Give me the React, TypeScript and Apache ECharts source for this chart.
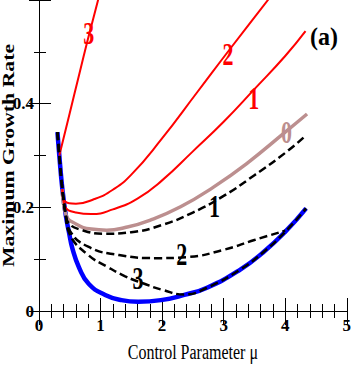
import React, { useEffect, useRef } from "react";
import * as echarts from "echarts";

// ---- data (mu, growth rate) ----
const xTickValues = [0, 1, 2, 3, 4, 5];
const yTickLabels: Record<string, string> = { "0": "0", "0.2": "0.2", "0.4": "0.4" };

const blueCurve: [number, number][] = [
  [0.3, 0.345], [0.33, 0.3], [0.38, 0.235], [0.435, 0.185], [0.49, 0.15], [0.54, 0.122],
  [0.65, 0.084], [0.81, 0.052], [1.075, 0.031], [1.34, 0.021], [1.61, 0.018], [1.98, 0.021],
  [2.36, 0.031], [2.73, 0.045], [3.27, 0.08], [3.64, 0.113], [4.01, 0.154], [4.34, 0.198],
];
const red3: [number, number][] = [
  [0.33, 0.3], [0.5, 0.382], [0.65, 0.455], [0.8, 0.527], [0.96, 0.6], [1.0, 0.62],
];
const red2: [number, number][] = [
  [0.38, 0.235], [0.42, 0.212], [0.6, 0.207], [0.9, 0.216], [1.2, 0.234],
  [1.5, 0.263], [1.98, 0.33], [2.57, 0.422], [3.1, 0.505], [3.72, 0.6], [3.8, 0.612],
];
const red1: [number, number][] = [
  [0.38, 0.235], [0.42, 0.203], [0.6, 0.19], [0.85, 0.187], [1.2, 0.196],
  [1.6, 0.217], [2.0, 0.252], [2.5, 0.308], [3.0, 0.365], [3.5, 0.428],
  [4.0, 0.492], [4.33, 0.54],
];
const pink0: [number, number][] = [
  [0.38, 0.235], [0.44, 0.185], [0.6, 0.168], [0.85, 0.158], [1.1, 0.156], [1.4, 0.161],
  [1.8, 0.175], [2.3, 0.201], [2.835, 0.239], [3.37, 0.284], [4.0, 0.345], [4.355, 0.38],
];
const dashed1: [number, number][] = [
  [0.3, 0.345], [0.33, 0.3], [0.38, 0.235], [0.43, 0.19], [0.48, 0.17], [0.7, 0.156],
  [1.075, 0.149], [1.5, 0.152], [2.0, 0.166], [2.5, 0.19], [3.0, 0.222], [3.5, 0.262],
  [4.0, 0.305], [4.33, 0.338],
];
const dashed2: [number, number][] = [
  [0.3, 0.345], [0.33, 0.3], [0.38, 0.235], [0.435, 0.185], [0.5, 0.155], [0.8, 0.124],
  [1.3, 0.108], [1.9, 0.102], [2.4, 0.104], [3.0, 0.118], [3.5, 0.137], [4.0, 0.155],
];
const dashed3: [number, number][] = [
  [0.3, 0.345], [0.33, 0.3], [0.38, 0.235], [0.435, 0.185], [0.5, 0.148],
  [0.8, 0.108], [1.1, 0.086], [1.4, 0.067], [1.7, 0.053], [2.0, 0.041], [2.36, 0.032],
  [2.73, 0.045], [3.27, 0.08], [3.64, 0.113], [4.01, 0.154], [4.34, 0.198],
];

const curveLabelTexts = ["3", "2", "1", "0", "1", "2", "3", "(a)"];
const curveLabelMu = [0.81, 3.07, 3.49, 4.02, 2.85, 2.32, 1.61, 4.63];
const curveLabelValue = [0.535, 0.494, 0.41, 0.344, 0.202, 0.108, 0.062, 0.53];
const curveLabelColors = ["#ff0000", "#ff0000", "#ff0000", "#bc8f8f", "#000000", "#000000", "#000000", "#000000"];

const xName = "Control Parameter μ";
const yName = "Maximum Growth Rate";

const SERIF = "'Liberation Serif', 'Times New Roman', serif";

export default function App() {
  const ref = useRef<HTMLDivElement>(null);

  useEffect(() => {
    const chart = echarts.init(ref.current!, undefined, { renderer: "svg" });

    const lineSeries = (data: [number, number][], color: string, width: number, dashed = false) => ({
      type: "line",
      data,
      showSymbol: false,
      symbol: "none",
      smooth: 0.5,
      lineStyle: { color, width, type: dashed ? [8, 4] : "solid" },
      xAxisIndex: 0,
      yAxisIndex: 0,
      silent: true,
    });

    const tickLine = { color: "#000", width: 1 };
    const baseX = {
      type: "value",
      min: xTickValues[0],
      max: xTickValues[xTickValues.length - 1],
      interval: 1,
      splitLine: { show: false },
      minorSplitLine: { show: false },
      axisLine: { show: true, lineStyle: tickLine },
    };
    const baseY = {
      type: "value",
      min: 0,
      max: 0.6,
      interval: 0.2,
      splitLine: { show: false },
      minorSplitLine: { show: false },
      axisLine: { show: true, lineStyle: tickLine },
    };

    chart.setOption({
      animation: false,
      backgroundColor: "#ffffff",
      grid: { left: 39, right: 2, top: -1, bottom: 57, containLabel: false },
      xAxis: [
        {
          ...baseX,
          position: "bottom",
          axisTick: { show: true, inside: true, length: 13, lineStyle: tickLine },
          minorTick: { show: true, splitNumber: 5, length: 7, lineStyle: tickLine },
          axisLabel: {
            show: true,
            margin: 6,
            color: "#000",
            fontSize: 17,
            fontWeight: "bold",
            fontFamily: SERIF,
          },
        },
        {
          ...baseX,
          position: "top",
          axisTick: { show: true, inside: true, length: 14, lineStyle: tickLine },
          minorTick: { show: true, splitNumber: 5, length: 7, lineStyle: tickLine },
          axisLabel: { show: false },
        },
      ],
      yAxis: [
        {
          ...baseY,
          position: "left",
          axisTick: { show: true, inside: true, length: 12, lineStyle: tickLine },
          minorTick: { show: true, splitNumber: 2, length: 7, lineStyle: tickLine },
          axisLabel: {
            show: true,
            margin: 5,
            color: "#000",
            fontSize: 17,
            fontWeight: "bold",
            fontFamily: SERIF,
            formatter: (v: number) => yTickLabels[String(Math.round(v * 10) / 10)] ?? "",
          },
        },
        {
          ...baseY,
          position: "right",
          axisTick: { show: true, inside: true, length: 10, lineStyle: tickLine },
          minorTick: { show: true, splitNumber: 2, length: 5, lineStyle: tickLine },
          axisLabel: { show: false },
        },
      ],
      series: [
        lineSeries(blueCurve, "#0000ff", 4.5),
        lineSeries(pink0, "#bc8f8f", 3.5),
        lineSeries(red3, "#ff0000", 2),
        lineSeries(red2, "#ff0000", 2),
        lineSeries(red1, "#ff0000", 2),
        lineSeries(dashed1, "#000000", 2.5, true),
        lineSeries(dashed2, "#000000", 2.5, true),
        lineSeries(dashed3, "#000000", 2.5, true),
      ],
    });

    const toPx = (mu: number, v: number) =>
      chart.convertToPixel({ seriesIndex: 0 }, [mu, v]) as number[];

    const labelGraphics = curveLabelTexts.map((t, i) => {
      const [px, py] = toPx(curveLabelMu[i], curveLabelValue[i]);
      const isTag = t.length > 1;
      return {
        type: "text",
        x: px,
        y: py,
        scaleY: isTag ? 1.05 : 1.4,
        z: 100,
        silent: true,
        style: {
          text: t,
          fill: curveLabelColors[i],
          font: `bold ${isTag ? 24 : 22}px ${SERIF}`,
          textAlign: "center",
          textVerticalAlign: "middle",
          align: "center",
          verticalAlign: "middle",
        },
      };
    });

    const [cx0] = toPx(2.5, 0);
    const [, cy0] = toPx(0, 0.3);

    chart.setOption({
      graphic: [
        ...labelGraphics,
        {
          type: "text",
          x: 8,
          y: cy0,
          rotation: Math.PI / 2,
          scaleX: 1.28,
          silent: true,
          style: {
            text: yName,
            fill: "#000",
            font: `bold 17px ${SERIF}`,
            textAlign: "center",
            textVerticalAlign: "middle",
            align: "center",
            verticalAlign: "middle",
          },
        },
        {
          type: "text",
          x: cx0,
          y: 352,
          scaleY: 1.35,
          silent: true,
          style: {
            text: xName,
            fill: "#000",
            font: `16px ${SERIF}`,
            textAlign: "center",
            textVerticalAlign: "middle",
            align: "center",
            verticalAlign: "middle",
          },
        },
      ],
    });

    return () => chart.dispose();
  }, []);

  return (
    <div
      ref={ref}
      style={{ position: "fixed", left: 0, top: 0, width: 354, height: 368 }}
    />
  );
}
